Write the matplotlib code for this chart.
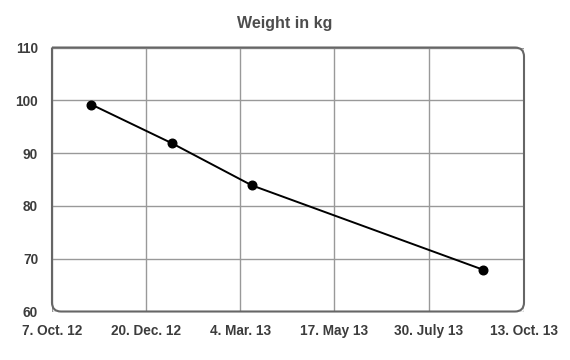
import datetime as dt
import matplotlib
matplotlib.use("Agg")
import matplotlib.pyplot as plt
from matplotlib.path import Path
from matplotlib.patches import PathPatch

# data
dates = [dt.date(2012, 11, 7), dt.date(2013, 1, 9), dt.date(2013, 3, 13), dt.date(2013, 9, 11)]
weights = [99.2, 91.9, 83.9, 67.9]

tick_dates = [dt.date(2012, 10, 7), dt.date(2012, 12, 20), dt.date(2013, 3, 4),
              dt.date(2013, 5, 17), dt.date(2013, 7, 30), dt.date(2013, 10, 13)]
tick_labels = ["7. Oct. 12", "20. Dec. 12", "4. Mar. 13", "17. May 13", "30. July 13", "13. Oct. 13"]
y_ticks = [60, 70, 80, 90, 100, 110]

plt.rcParams['font.family'] = ['Liberation Sans', 'DejaVu Sans']

fig = plt.figure(figsize=(5.7, 3.6), dpi=100)
ax = fig.add_axes([0.0912, 0.1347, 0.8281, 0.7333])

ax.plot(dates, weights, color="black", lw=1.4, marker="o", markersize=6.2, zorder=3)

ax.set_xlim(tick_dates[0], tick_dates[-1])
ax.set_ylim(60, 110)
ax.set_xticks(tick_dates)
ax.set_xticklabels(tick_labels)
ax.set_yticks(y_ticks)
ax.tick_params(length=0, labelsize=9.8, colors="#3c3c3c")
ax.tick_params(axis="x", pad=9)
ax.tick_params(axis="y", pad=10)
for lab in ax.get_xticklabels() + ax.get_yticklabels():
    lab.set_fontweight("bold")

ax.grid(True, color="#999999", lw=1)
for s in ax.spines.values():
    s.set_visible(False)

# border with rounded corners (top-left square)
rx = 9 / 472
ry = 9 / 264
verts = [(0, 1), (1 - rx, 1), (1, 1), (1, 1 - ry), (1, ry), (1, 0), (1 - rx, 0),
         (rx, 0), (0, 0), (0, ry), (0, 1)]
codes = [Path.MOVETO, Path.LINETO, Path.CURVE3, Path.CURVE3, Path.LINETO, Path.CURVE3, Path.CURVE3,
         Path.LINETO, Path.CURVE3, Path.CURVE3, Path.LINETO]
border = PathPatch(Path(verts, codes), transform=ax.transAxes, fill=False,
                   edgecolor="#666666", lw=1.5, clip_on=False, zorder=4)
ax.add_patch(border)

fig.text(0.5, 0.935, "Weight in kg", ha="center", va="center", fontsize=11.5,
         fontweight="bold", color="#4d4d4d")

fig.savefig("out.png", dpi=100)
